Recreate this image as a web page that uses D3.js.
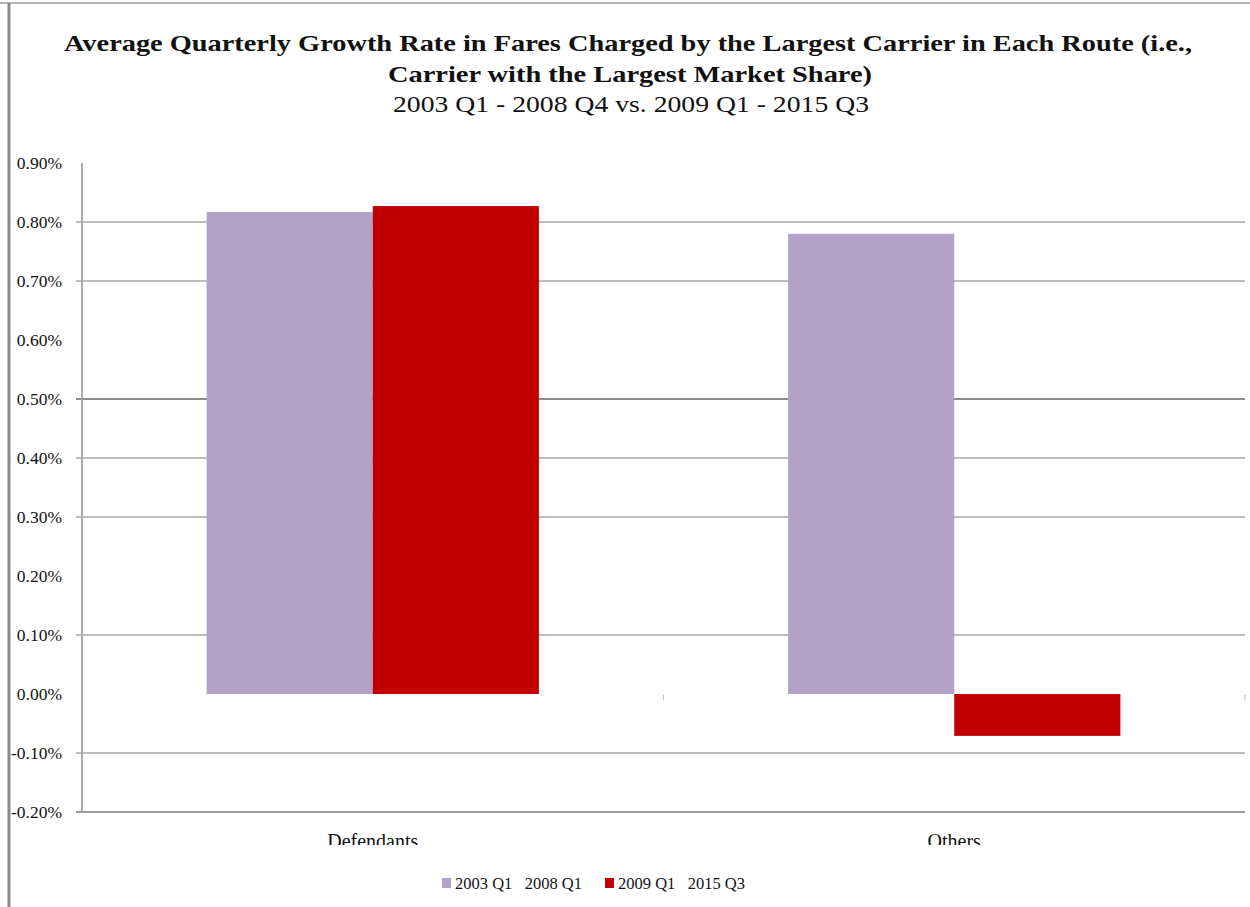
<!DOCTYPE html>
<html>
<head>
<meta charset="utf-8">
<script src="https://cdn.jsdelivr.net/npm/d3@7/dist/d3.min.js"></script>
<style>
  html, body { margin: 0; padding: 0; background: #fff; }
  svg { display: block; }
  text { font-family: "Liberation Serif", "Times New Roman", Times, serif; fill: #111; }
</style>
</head>
<body>
<svg id="chart" width="1250" height="907"></svg>
<script>
// Categories and series (values in percent)
const categories = ["Defendants", "Others"];
const seriesNames = ["2003 Q1   2008 Q1", "2009 Q1   2015 Q3"];
const seriesColors = ["#b3a2c7", "#c00000"];
const earlyPeriod = [0.817, 0.780];
const latePeriod = [0.827, -0.071];
const yTicks = [0.9, 0.8, 0.7, 0.6, 0.5, 0.4, 0.3, 0.2, 0.1, 0.0, -0.1, -0.2];
const gridValues = [0.8, 0.7, 0.5, 0.4, 0.3, 0.1, -0.1, -0.2];
const titleLines = [
  "Average Quarterly Growth Rate in Fares Charged by the Largest Carrier in Each Route (i.e.,",
  "Carrier with the Largest Market Share)",
  "2003 Q1 - 2008 Q4 vs. 2009 Q1 - 2015 Q3"
];

const svg = d3.select("#chart");
const pct = d3.formatLocale({ decimal: ".", thousands: ",", grouping: [3], currency: ["", ""], minus: "-" }).format(".2f");

// page frame
svg.append("line").attr("x1", 0).attr("x2", 1250).attr("y1", 3).attr("y2", 3)
  .attr("stroke", "#9a9a9a").attr("stroke-width", 1.5);
svg.append("line").attr("x1", 9).attr("x2", 9).attr("y1", 3).attr("y2", 907)
  .attr("stroke", "#8a8a8a").attr("stroke-width", 3);

// titles
svg.append("text").attr("x", 628).attr("y", 51).attr("text-anchor", "middle")
  .attr("font-size", 24).attr("font-weight", "bold")
  .attr("textLength", 1128).attr("lengthAdjust", "spacingAndGlyphs")
  .text(titleLines[0]);
svg.append("text").attr("x", 630).attr("y", 82).attr("text-anchor", "middle")
  .attr("font-size", 24).attr("font-weight", "bold")
  .attr("textLength", 484).attr("lengthAdjust", "spacingAndGlyphs")
  .text(titleLines[1]);
svg.append("text").attr("x", 631).attr("y", 112).attr("text-anchor", "middle")
  .attr("font-size", 24)
  .attr("textLength", 476).attr("lengthAdjust", "spacingAndGlyphs")
  .text(titleLines[2]);

// plot area
const plotLeft = 82, plotRight = 1245, plotTop = 163, plotBottom = 812;

const y = d3.scaleLinear().domain([-0.2, 0.9]).range([plotBottom, plotTop]);
const x0 = d3.scaleBand().domain(categories).range([plotLeft, plotRight]).paddingInner(0).paddingOuter(0);
const x1 = d3.scaleBand().domain([0, 1]).range([0, x0.bandwidth()]).paddingOuter(0.75).paddingInner(0);

// gridlines
svg.append("g").selectAll("line").data(gridValues).join("line")
  .attr("x1", plotLeft - 6).attr("x2", plotRight)
  .attr("y1", d => y(d)).attr("y2", d => y(d))
  .attr("stroke", d => d === 0.5 ? "#8c8c8c" : (d === -0.2 ? "#9c9c9c" : "#a9a9a9"))
  .attr("stroke-width", d => d === 0.5 || d === -0.2 ? 2 : 1.3);

// y axis line
svg.append("line").attr("x1", plotLeft).attr("x2", plotLeft).attr("y1", plotTop).attr("y2", plotBottom)
  .attr("stroke", "#a3a3a3").attr("stroke-width", 1.8);

// y tick labels
const yAxis = d3.axisLeft(y).tickValues(yTicks).tickSize(0).tickPadding(20)
  .tickFormat(d => pct(d) + "%");
const gy = svg.append("g").attr("transform", `translate(${plotLeft},0)`).call(yAxis);
gy.select(".domain").remove();
gy.attr("font-family", null);
gy.selectAll("text").attr("font-size", 17.5).attr("fill", "#222");

// category tick marks on the zero line
svg.append("g").selectAll("line").data([categories[1], null]).join("line")
  .attr("x1", d => d ? x0(d) : plotRight).attr("x2", d => d ? x0(d) : plotRight)
  .attr("y1", y(0) + 1).attr("y2", y(0) + 6)
  .attr("stroke", "#c4c4c4").attr("stroke-width", 1.2);

// bars
const rows = categories.map((c, i) => ({ cat: c, vals: [earlyPeriod[i], latePeriod[i]] }));
const groups = svg.append("g").selectAll("g").data(rows).join("g")
  .attr("transform", d => `translate(${x0(d.cat)},0)`);
groups.selectAll("rect").data(d => d.vals.map((v, k) => ({ v, k }))).join("rect")
  .attr("x", d => x1(d.k))
  .attr("width", x1.bandwidth())
  .attr("y", d => y(Math.max(0, d.v)))
  .attr("height", d => Math.abs(y(d.v) - y(0)))
  .attr("fill", d => seriesColors[d.k]);

// category labels (clipped at the bottom)
svg.append("defs").append("clipPath").attr("id", "catclip")
  .append("rect").attr("x", 0).attr("y", 820).attr("width", 1250).attr("height", 25);
svg.append("g").attr("clip-path", "url(#catclip)")
  .selectAll("text").data(categories).join("text")
  .attr("x", d => x0(d) + x0.bandwidth() / 2)
  .attr("y", 848).attr("text-anchor", "middle").attr("font-size", 20)
  .text(d => d);

// legend
const legendX = [442, 605];
const lg = svg.append("g").selectAll("g").data(seriesNames).join("g")
  .attr("transform", (d, i) => `translate(${legendX[i]},878)`);
lg.append("rect").attr("width", 9).attr("height", 10).attr("fill", (d, i) => seriesColors[i]);
lg.append("text").attr("x", 13).attr("y", 11).attr("font-size", 16.5)
  .style("white-space", "pre").text(d => d);
</script>
</body>
</html>
